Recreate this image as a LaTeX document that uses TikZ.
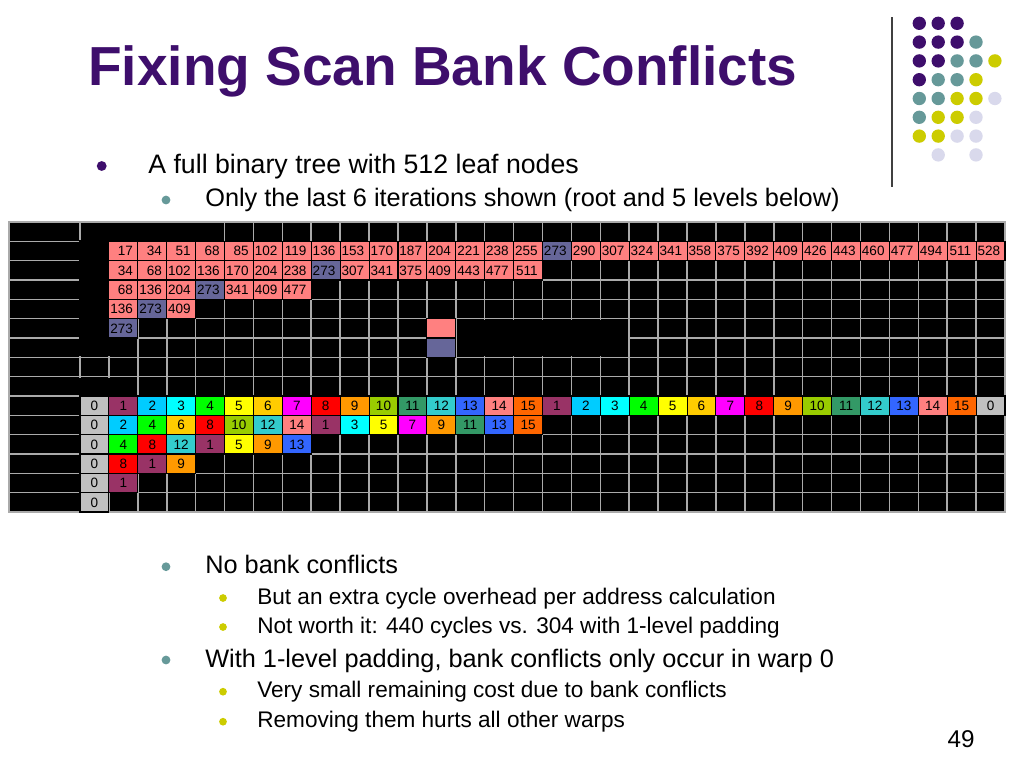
\documentclass[tikz,border=0pt]{standalone}
\usepackage{fontspec}
\setmainfont{Liberation Sans}
\usetikzlibrary{positioning,calc}

\definecolor{slidepurple}{RGB}{62,14,108}
\definecolor{dotP}{RGB}{62,14,108}
\definecolor{dotT}{RGB}{102,153,153}
\definecolor{dotY}{RGB}{204,204,0}
\definecolor{dotL}{RGB}{217,217,236}
\definecolor{gridgray}{RGB}{170,170,170}
\definecolor{sumpink}{RGB}{255,128,128}
\definecolor{sumblue}{RGB}{102,102,153}
\definecolor{bank0}{RGB}{192,192,192}
\definecolor{bank1}{RGB}{153,51,102}
\definecolor{bank2}{RGB}{0,204,255}
\definecolor{bank3}{RGB}{0,255,255}
\definecolor{bank4}{RGB}{0,255,0}
\definecolor{bank5}{RGB}{255,255,0}
\definecolor{bank6}{RGB}{255,204,0}
\definecolor{bank7}{RGB}{255,0,255}
\definecolor{bank8}{RGB}{255,0,0}
\definecolor{bank9}{RGB}{255,153,0}
\definecolor{bank10}{RGB}{153,204,0}
\definecolor{bank11}{RGB}{51,153,102}
\definecolor{bank12}{RGB}{51,204,204}
\definecolor{bank13}{RGB}{51,102,255}
\definecolor{bank14}{RGB}{255,128,128}
\definecolor{bank15}{RGB}{255,102,0}

\tikzset{
    cellbox/.style={draw=black, line width=0.6pt},
    celltext/.style={inner sep=0pt, font=\fontsize{7.7pt}{9pt}\selectfont},
    lvlone/.style={anchor=base west, inner sep=0pt, font=\fontsize{15.2pt}{18pt}\selectfont},
    lvltwo/.style={anchor=base west, inner sep=0pt, font=\fontsize{14.4pt}{17pt}\selectfont},
    lvlthree/.style={anchor=base west, inner sep=0pt, font=\fontsize{12.85pt}{15pt}\selectfont},
}

\begin{document}
\begin{tikzpicture}[x=0.02cm, y=-0.02cm]
        % Table formulae, everything in slide pixels
        \pgfmathsetmacro{\cw}{925/32}
        \pgfmathsetmacro{\ch}{290/15}
        \pgfmathsetmacro{\gx}{80}
        \pgfmathsetmacro{\gy}{222}
        \pgfmathsetmacro{\lift}{4.9}

        \useasboundingbox (0,0) rectangle (1024,768);
        \fill[white] (0,0) rectangle (1024,768);

        % Title and slide number
        \node[anchor=base west, inner sep=0pt, text=slidepurple,
              font=\bfseries\fontsize{31.3pt}{36pt}\selectfont] (title) at (88,85) {Fixing Scan Bank Conflicts};
        \node[anchor=base east, inner sep=0pt, font=\fontsize{13.8pt}{16pt}\selectfont] (pagenum) at (975,747) {49};

        % Logo: rule and dots
        \coordinate (L1) at (891.7,17);
        \coordinate (L2) at (891.7,187);
        \draw[line width=0.9pt, black!75] (L1) -- (L2);
        \foreach \r/\pattern in {0/{P,P,P,x,x},1/{P,P,P,T,x},2/{P,P,T,T,Y},3/{P,T,T,Y,x},
                                 4/{T,T,Y,Y,L},5/{T,Y,Y,L,x},6/{Y,Y,L,L,x},7/{x,L,x,L,x}} {
            \foreach \d [count=\c] in \pattern {
                \if\d x\else
                    \edef\dc{dot\d}
                    \fill[fill=\dc] ({919.3+(\c-1)*18.9},{23.3+\r*18.8}) circle (3.8pt);
                \fi
            }
        }

        % Bullets above the table
        \fill[slidepurple] (101.7,166) circle (2.8pt);
        \node[lvlone] (tree) at (148,173) {A full binary tree with 512 leaf nodes};
        \fill[dotT] (166,200) circle (2.5pt);
        \node[lvltwo] (iters) at (205,206) {Only the last 6 iterations shown (root and 5 levels below)};

        % Table body with light gray rules
        \fill[black] (9,\gy) rectangle (1005,512);
        \begin{scope}[gridgray, line width=0.9pt]
            \foreach \i in {1,...,14}
                \draw (9,{\gy+\i*\ch}) -- (1005,{\gy+\i*\ch});
            \foreach \j in {0,...,31}
                \draw ({\gx+\j*\cw},\gy) -- ({\gx+\j*\cw},512);
            \draw (9,\gy) rectangle (1005,512);
        \end{scope}

        % Merged cells hide the rules inside them
        \begin{scope}[black]
            \fill (81,223) rectangle ({\gx+5*\cw-1},{\gy+\ch});
            \fill (79,{\gy+\ch-1}) rectangle ({\gx+\cw+1},{\gy+7*\ch-1});
            \fill (79,{\gy+8*\ch+1}) rectangle ({\gx+2*\cw-1.2},{\gy+9*\ch-1});
            \fill ({\gx+13*\cw+1},{\gy+5*\ch+1}) rectangle ({\gx+19*\cw-1},{\gy+7*\ch-1});
        \end{scope}

        % Up-sweep partial sums (padded indices)
        \foreach \r/\vals in {1/{17,34,51,68,85,102,119,136,153,170,187,204,221,238,255,273,290,307,324,341,358,375,392,409,426,443,460,477,494,511,528},
                              2/{34,68,102,136,170,204,238,273,307,341,375,409,443,477,511},
                              3/{68,136,204,273,341,409,477},
                              4/{136,273,409},
                              5/{273}} {
            \foreach \v [count=\c] in \vals {
                \ifnum\v=273 \def\fc{sumblue}\else\def\fc{sumpink}\fi
                \filldraw[cellbox, fill=\fc] ({\gx+\c*\cw},{\gy+\r*\ch}) rectangle ++(\cw,\ch);
                \node[celltext, anchor=base east] (up-\r-\c) at ({\gx+(\c+1)*\cw-4.5},{\gy+(\r+0.5)*\ch+\lift}) {\v};
            }
        }

        % Legend swatches
        \filldraw[cellbox, fill=sumpink] ({\gx+12*\cw},{\gy+5*\ch}) rectangle ++(\cw,\ch);
        \filldraw[cellbox, fill=sumblue] ({\gx+12*\cw},{\gy+6*\ch}) rectangle ++(\cw,\ch);

        % Banks touched by each iteration
        \foreach \r/\vals in {9/{0,1,2,3,4,5,6,7,8,9,10,11,12,13,14,15,1,2,3,4,5,6,7,8,9,10,11,12,13,14,15,0},
                              10/{0,2,4,6,8,10,12,14,1,3,5,7,9,11,13,15},
                              11/{0,4,8,12,1,5,9,13},
                              12/{0,8,1,9},
                              13/{0,1},
                              14/{0}} {
            \foreach \v [count=\c from 0] in \vals {
                \edef\fc{bank\v}
                \filldraw[cellbox, fill=\fc] ({\gx+\c*\cw},{\gy+\r*\ch}) rectangle ++(\cw,\ch);
                \node[celltext, anchor=base] (dn-\r-\c) at ({\gx+(\c+0.5)*\cw},{\gy+(\r+0.5)*\ch+\lift}) {\v};
            }
        }

        % Bullets below the table
        \fill[dotT] (166,566.7) circle (2.5pt);
        \node[lvltwo] (noconf) at (205,573) {No bank conflicts};
        \fill[dotY] (223,598) circle (2.2pt);
        \node[lvlthree] (extra) at (257,604) {But an extra cycle overhead per address calculation};
        \fill[dotY] (223,627) circle (2.2pt);
        \node[lvlthree] (worth) at (257,633) {Not worth it: 440 cycles vs. 304 with 1-level padding};
        \fill[dotT] (166,660) circle (2.5pt);
        \node[lvltwo] (warp) at (205,667) {With 1-level padding, bank conflicts only occur in warp 0};
        \fill[dotY] (223,691.7) circle (2.2pt);
        \node[lvlthree] (small) at (257,697) {Very small remaining cost due to bank conflicts};
        \fill[dotY] (223,721.7) circle (2.2pt);
        \node[lvlthree] (hurts) at (257,727) {Removing them hurts all other warps};
\end{tikzpicture}
\end{document}
